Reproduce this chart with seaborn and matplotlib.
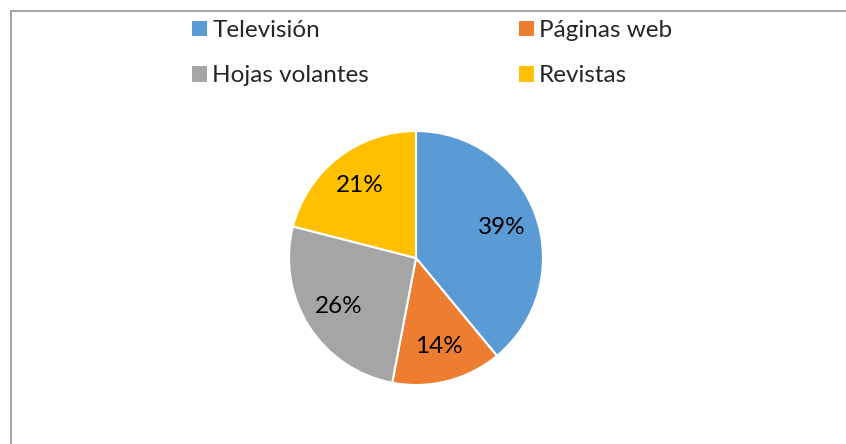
import matplotlib.pyplot as plt
import seaborn as sns
from matplotlib.patches import Patch
from matplotlib.lines import Line2D

categorias = ["Televisión", "Páginas web", "Hojas volantes", "Revistas"]
porcentajes = [39, 14, 26, 21]
colores = ["#5B9BD5", "#ED7D31", "#A5A5A5", "#FFC000"]

sns.set_theme(style="white")
plt.rcParams["font.family"] = ["Lato", "DejaVu Sans"]

W, H = 846, 444
fig = plt.figure(figsize=(W / 100, H / 100), dpi=100)

# pie centre and radius in pixels
cx, cy, r = 416, 258, 127
ax = fig.add_axes([(cx - r) / W, (H - cy - r) / H, 2 * r / W, 2 * r / H])
ax.pie(porcentajes, colors=colores, startangle=90, counterclock=False,
       autopct="%1.0f%%", pctdistance=0.72,
       wedgeprops=dict(edgecolor="white", linewidth=1.5),
       textprops=dict(fontsize=17.5, color="black"))
ax.set_xlim(-1, 1)
ax.set_ylim(-1, 1)
ax.set_aspect("equal")

# chart area border (top and left visible)
fig.add_artist(Line2D([10.5 / W, 10.5 / W, 1.02], [0, 1 - 11.5 / H, 1 - 11.5 / H],
                      transform=fig.transFigure, color="#A6A6A6", linewidth=1.5))

# legend filled row by row: reorder for matplotlib's column-major layout
orden = [0, 2, 1, 3]
handles = [Patch(facecolor=colores[i], edgecolor="none") for i in orden]
etiquetas = [categorias[i] for i in orden]
fig.legend(handles, etiquetas, ncol=2, loc="upper left",
           bbox_to_anchor=(192 / W, 1 - 20 / H), frameon=False,
           fontsize=17.5, borderpad=0, borderaxespad=0,
           handlelength=0.62, handleheight=0.62, handletextpad=0.22,
           labelspacing=1.0, columnspacing=6.15)

fig.savefig("out.png", dpi=100)
